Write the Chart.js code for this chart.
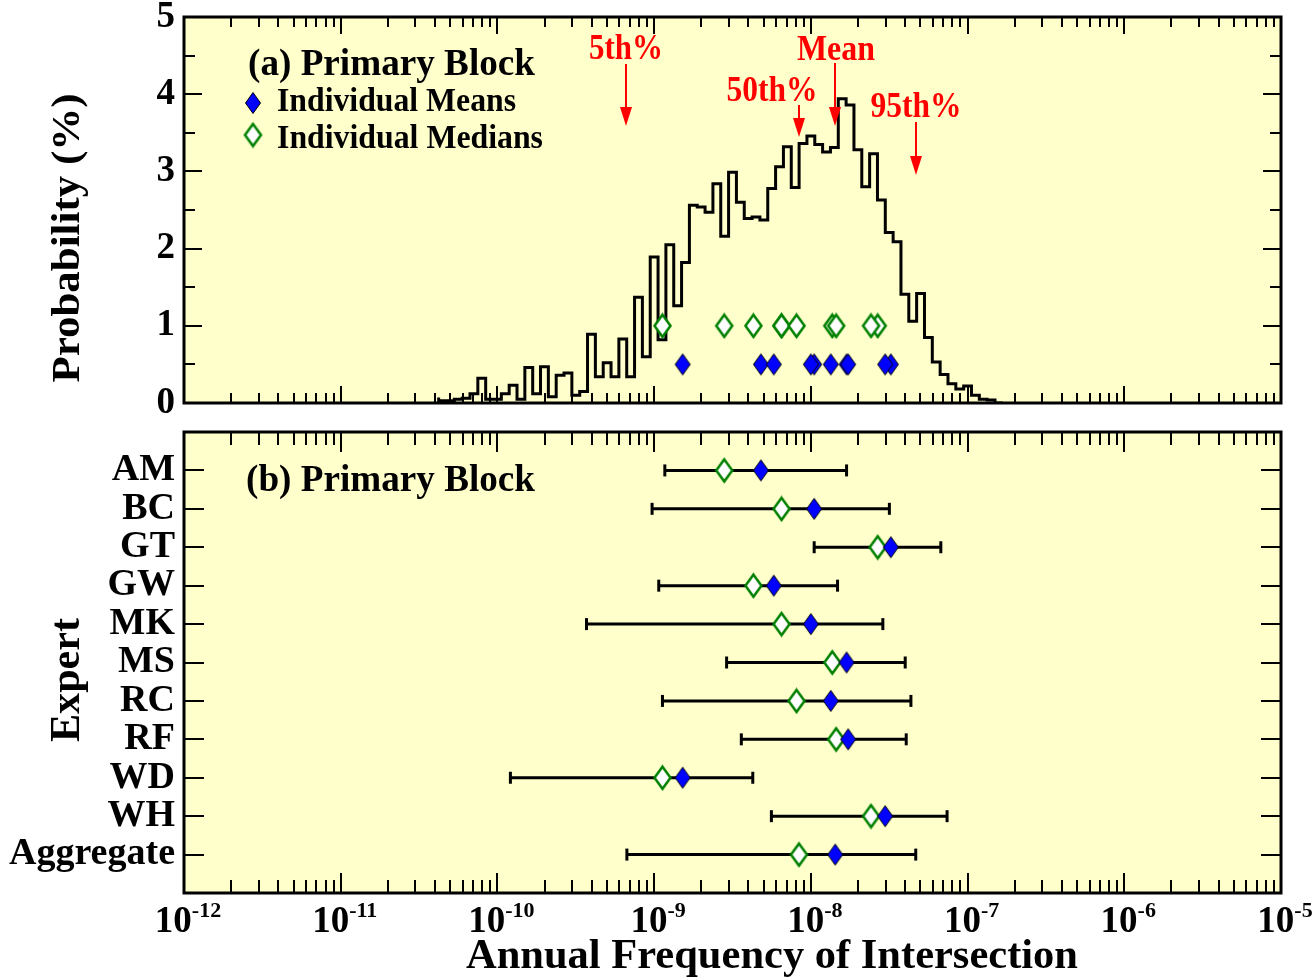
<!DOCTYPE html>
<html>
<head>
<meta charset="utf-8">
<script src="https://cdn.jsdelivr.net/npm/chart.js@4.4.0/dist/chart.umd.min.js"></script>
<style>
  html, body { margin: 0; padding: 0; background: #fff; }
  #wrap { position: relative; width: 1314px; height: 980px; }
  #top { position: absolute; left: 0; top: 0; }
  #bottom { position: absolute; left: 0; top: 418px; }
</style>
</head>
<body>
<div id="wrap">
  <canvas id="top" width="1314" height="418"></canvas>
  <canvas id="bottom" width="1314" height="562"></canvas>
</div>
<script>
// values
const experts = ['AM', 'BC', 'GT', 'GW', 'MK', 'MS', 'RC', 'RF', 'WD', 'WH', 'Aggregate'];
const lows    = [1.17e-9, 9.7e-10, 1.05e-8, 1.07e-9, 3.7e-10, 2.9e-9, 1.13e-9, 3.6e-9, 1.21e-10, 5.6e-9, 6.7e-10];
const medians = [2.8e-9, 6.5e-9, 2.67e-8, 4.3e-9, 6.5e-9, 1.37e-8, 8.1e-9, 1.45e-8, 1.13e-9, 2.42e-8, 8.4e-9];
const means   = [4.8e-9, 1.05e-8, 3.24e-8, 5.8e-9, 1.0e-8, 1.69e-8, 1.34e-8, 1.73e-8, 1.52e-9, 2.98e-8, 1.43e-8];
const highs   = [1.69e-8, 3.17e-8, 6.75e-8, 1.48e-8, 2.88e-8, 4.0e-8, 4.35e-8, 4.06e-8, 4.26e-9, 7.4e-8, 4.67e-8];

// histogram of the aggregate, probability (%) per bin of 0.05 decade
const histFirstEdge = -10.375;
const histBinWidth = 0.05;
const histProb = [
  0.07, 0.03, 0.03, 0.05, 0.06, 0.12, 0.32, 0.05, 0.05, 0.12,
  0.23, 0.05, 0.46, 0.12, 0.47, 0.08, 0.36, 0.39, 0.10, 0.15,
  0.89, 0.34, 0.52, 0.34, 0.83, 0.34, 1.37, 0.60, 1.89, 0.82,
  2.05, 1.26, 1.82, 2.56, 2.54, 2.47, 2.84, 2.16, 2.99, 2.60,
  2.39, 2.41, 2.37, 2.78, 3.06, 3.32, 2.79, 3.36, 3.46, 3.35,
  3.25, 3.31, 3.94, 3.86, 3.28, 2.80, 3.23, 2.63, 2.21, 2.09,
  1.41, 1.06, 1.42, 0.85, 0.53, 0.37, 0.25, 0.18, 0.22, 0.10,
  0.05, 0.04
];

// percentile arrows of the aggregate
const pctLabels = ['5th%', '50th%', 'Mean', '95th%'];
const pctValues = [6.66e-10, 8.45e-9, 1.43e-8, 4.67e-8];

// marker rows in panel (a)
const meanLevel = 0.5;
const medianLevel = 1.0;

const decadeExps = [-12, -11, -10, -9, -8, -7, -6, -5];

Chart.defaults.font.family = '"Liberation Serif", "Times New Roman", serif';
Chart.defaults.font.weight = 'bold';
Chart.defaults.color = '#000';

const PLOT_BG = '#FFFFCC';

function diamond(hw, hh, fill, stroke, lw) {
  const c = document.createElement('canvas');
  c.width = Math.ceil(2 * hw + lw + 2);
  c.height = Math.ceil(2 * hh + lw + 2);
  const g = c.getContext('2d');
  const cx = c.width / 2, cy = c.height / 2;
  g.beginPath();
  g.moveTo(cx, cy - hh);
  g.lineTo(cx + hw, cy);
  g.lineTo(cx, cy + hh);
  g.lineTo(cx - hw, cy);
  g.closePath();
  g.fillStyle = fill;
  g.fill();
  g.lineWidth = lw;
  g.strokeStyle = stroke;
  g.stroke();
  return c;
}
const blueDiamond = diamond(7.5, 10.5, '#0000FF', '#000', 1);
const greenDiamond = diamond(8, 11, '#FFFFFF', '#008000', 2.5);

function fitText(ctx, text, x, y, size, width, align, color, rot) {
  ctx.save();
  ctx.font = 'bold ' + size + 'px "Liberation Serif"';
  ctx.fillStyle = color || '#000';
  ctx.textBaseline = 'middle';
  ctx.textAlign = align || 'left';
  const w = ctx.measureText(text).width;
  const s = width ? width / w : 1;
  ctx.translate(x, y);
  if (rot) ctx.rotate(rot);
  ctx.scale(s, 1);
  ctx.fillText(text, 0, 0);
  ctx.restore();
}

function fillBg(chart) {
  const {ctx, chartArea: a} = chart;
  ctx.save();
  ctx.fillStyle = PLOT_BG;
  ctx.fillRect(a.left, a.top, a.right - a.left, a.bottom - a.top);
  ctx.restore();
}

function drawFrame(chart, xMajor, xMinor, yTicks) {
  const {ctx, chartArea: a, scales} = chart;
  ctx.save();
  ctx.strokeStyle = '#000';
  ctx.lineWidth = 2;
  ctx.beginPath();
  decadeExps.forEach(e => {
    for (let m = 1; m <= 9; m++) {
      if (e === -5 && m > 1) break;
      const px = Math.round(scales.x.getPixelForValue(m * Math.pow(10, e)));
      const len = m === 1 ? xMajor : xMinor;
      ctx.moveTo(px, a.top); ctx.lineTo(px, a.top + len);
      ctx.moveTo(px, a.bottom); ctx.lineTo(px, a.bottom - len);
    }
  });
  yTicks.forEach(t => {
    const py = Math.round(scales.y.getPixelForValue(t.v));
    ctx.moveTo(a.left, py); ctx.lineTo(a.left + t.len, py);
    ctx.moveTo(a.right, py); ctx.lineTo(a.right - t.len, py);
  });
  ctx.stroke();
  ctx.lineWidth = 3;
  ctx.strokeRect(a.left, a.top, a.right - a.left, a.bottom - a.top);
  ctx.restore();
}

// fixed left axis width, and no extra padding from the tick labels
function fixAxis(s) {
  s.width = 184;
  s.paddingTop = 0;
  s.paddingBottom = 0;
}

// ---------- panel (a) ----------
const histPoints = [{x: Math.pow(10, histFirstEdge), y: 0}];
histProb.forEach((p, i) => {
  histPoints.push({x: Math.pow(10, histFirstEdge + i * histBinWidth), y: p});
});
histPoints.push({x: Math.pow(10, histFirstEdge + histProb.length * histBinWidth), y: 0});

const nExp = experts.length - 1; // aggregate is not plotted in panel (a)

const topDecor = {
  id: 'topDecor',
  beforeDatasetsDraw(chart) { fillBg(chart); },
  afterDatasetsDraw(chart) {
    const ctx = chart.ctx;
    const yt = [];
    for (let v = 0; v <= 5; v += 0.5) yt.push({v: v, len: v % 1 === 0 ? 18 : 11});
    drawFrame(chart, 17, 10, yt);

    fitText(ctx, '(a) Primary Block', 248, 65, 38, 287);
    ctx.drawImage(blueDiamond, 253 - blueDiamond.width / 2, 103 - blueDiamond.height / 2);
    fitText(ctx, 'Individual Means', 277, 102, 33, 239);
    ctx.drawImage(greenDiamond, 253 - greenDiamond.width / 2, 135 - greenDiamond.height / 2);
    fitText(ctx, 'Individual Medians', 277, 139, 33, 266);

    // percentile arrows
    const arrowTop = [64, 105, 63, 122];
    const arrowTip = [126, 137, 126, 175];
    const labelY = [50, 92, 51, 108];
    const labelDx = [0, -27, 1, 0];
    const labelW = [74, 91, 78, 91];
    ctx.save();
    ctx.strokeStyle = '#FF0000';
    ctx.fillStyle = '#FF0000';
    ctx.lineWidth = 2;
    pctValues.forEach((v, i) => {
      const px = Math.round(chart.scales.x.getPixelForValue(v));
      ctx.beginPath();
      ctx.moveTo(px, arrowTop[i]);
      ctx.lineTo(px, arrowTip[i] - 16);
      ctx.stroke();
      ctx.beginPath();
      ctx.moveTo(px - 6, arrowTip[i] - 19);
      ctx.lineTo(px + 6, arrowTip[i] - 19);
      ctx.lineTo(px, arrowTip[i]);
      ctx.closePath();
      ctx.fill();
      fitText(ctx, pctLabels[i], px + labelDx[i], labelY[i], 36, labelW[i], 'center', '#FF0000');
    });
    ctx.restore();

    fitText(ctx, 'Probability (%)', 69, 238, 40, 289, 'center', '#000', -Math.PI / 2);
  }
};

new Chart(document.getElementById('top'), {
  type: 'scatter',
  data: {
    datasets: [
      {
        label: 'Individual Means',
        data: means.slice(0, nExp).map(v => ({x: v, y: meanLevel})),
        pointStyle: blueDiamond,
        pointRadius: 10
      },
      {
        label: 'Individual Medians',
        data: medians.slice(0, nExp).map(v => ({x: v, y: medianLevel})),
        pointStyle: greenDiamond,
        pointRadius: 10
      },
      {
        type: 'line',
        label: 'Probability',
        data: histPoints,
        stepped: 'after',
        borderColor: '#000',
        borderWidth: 3,
        pointRadius: 0,
        fill: false
      }
    ]
  },
  options: {
    responsive: false,
    animation: false,
    layout: {autoPadding: false, padding: {top: 17, right: 33, bottom: 15, left: 0}},
    scales: {
      x: {type: 'logarithmic', min: 1e-12, max: 1e-5, display: false},
      y: {
        min: 0, max: 5,
        grid: {display: false, drawTicks: false},
        border: {display: false},
        ticks: {stepSize: 1, padding: 9, color: '#000', font: {size: 37, weight: 'bold'}},
        afterFit: fixAxis
      }
    },
    plugins: {legend: {display: false}, tooltip: {enabled: false}}
  },
  plugins: [topDecor]
});

// ---------- panel (b) ----------
const rangePoints = [];
experts.forEach((e, i) => {
  rangePoints.push({x: lows[i], y: i + 1});
  rangePoints.push({x: highs[i], y: i + 1});
  rangePoints.push({x: null, y: null});
});

const BOT_OFF = 418;
const bottomDecor = {
  id: 'bottomDecor',
  beforeDatasetsDraw(chart) { fillBg(chart); },
  afterDatasetsDraw(chart) {
    const ctx = chart.ctx;
    drawFrame(chart, 20, 13, experts.map((e, i) => ({v: i + 1, len: 20})));

    fitText(ctx, '(b) Primary Block', 246, 481 - BOT_OFF, 38, 289);

    // x tick labels 10^n
    decadeExps.forEach(e => {
      const px = chart.scales.x.getPixelForValue(Math.pow(10, e));
      ctx.save();
      ctx.font = 'bold 37px "Liberation Serif"';
      const w1 = ctx.measureText('10').width;
      ctx.font = 'bold 22px "Liberation Serif"';
      const sup = '-' + Math.abs(e);
      const w2 = ctx.measureText(sup).width;
      const x0 = px + 4 - (w1 + w2) / 2;
      ctx.restore();
      fitText(ctx, '10', x0, 922 - BOT_OFF, 37);
      fitText(ctx, sup, x0 + w1, 911 - BOT_OFF, 22);
    });

    fitText(ctx, 'Annual Frequency of Intersection', 772, 957 - BOT_OFF, 42, 612, 'center');
    fitText(ctx, 'Expert', 68, 680 - BOT_OFF, 42, 124, 'center', '#000', -Math.PI / 2);
  }
};

new Chart(document.getElementById('bottom'), {
  type: 'scatter',
  data: {
    labels: experts,
    datasets: [
      {
        label: 'Mean',
        data: means.map((v, i) => ({x: v, y: i + 1})),
        pointStyle: blueDiamond,
        pointRadius: 10
      },
      {
        label: 'Median',
        data: medians.map((v, i) => ({x: v, y: i + 1})),
        pointStyle: greenDiamond,
        pointRadius: 10
      },
      {
        type: 'line',
        label: 'Range',
        data: rangePoints,
        spanGaps: false,
        borderColor: '#000',
        borderWidth: 3,
        pointStyle: 'line',
        pointRotation: 90,
        pointRadius: 6,
        pointBorderWidth: 3,
        pointBorderColor: '#000',
        fill: false
      }
    ]
  },
  options: {
    responsive: false,
    animation: false,
    layout: {autoPadding: false, padding: {top: 14, right: 33, bottom: 87, left: 0}},
    scales: {
      x: {type: 'logarithmic', min: 1e-12, max: 1e-5, display: false},
      y: {
        min: 0, max: 12, reverse: true,
        grid: {display: false, drawTicks: false},
        border: {display: false},
        ticks: {
          stepSize: 1, autoSkip: false, padding: 9, color: '#000',
          font: {size: 38, weight: 'bold'},
          callback: v => experts[v - 1] || ''
        },
        afterFit: fixAxis
      }
    },
    plugins: {legend: {display: false}, tooltip: {enabled: false}}
  },
  plugins: [bottomDecor]
});
</script>
</body>
</html>
